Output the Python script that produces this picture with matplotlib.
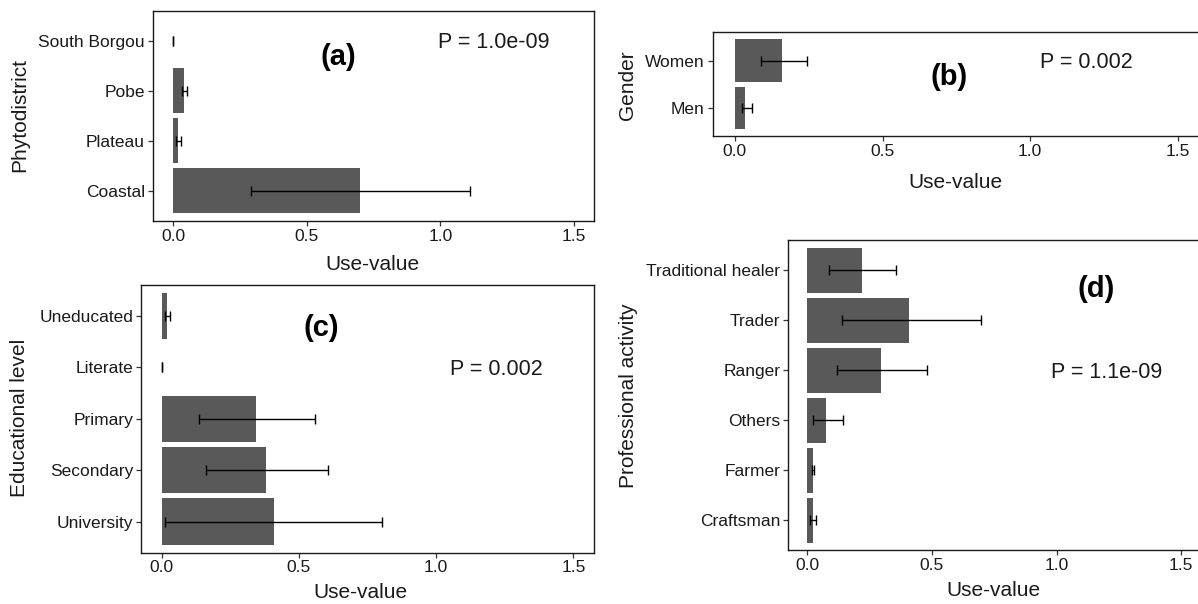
import matplotlib
matplotlib.use("Agg")
import matplotlib.pyplot as plt
import numpy as np

plt.rcParams['font.family'] = ['Liberation Sans', 'DejaVu Sans']

# ---- data ----
phyto_cats = ["Coastal", "Plateau", "Pobe", "South Borgou"]
phyto_val = [0.70, 0.019, 0.040, 0.0]
phyto_lo = [0.29, 0.010, 0.034, 0.0]
phyto_hi = [1.11, 0.028, 0.054, 0.0]

gender_cats = ["Men", "Women"]
gender_val = [0.035, 0.159]
gender_lo = [0.023, 0.087]
gender_hi = [0.058, 0.245]

edu_cats = ["University", "Secondary", "Primary", "Literate", "Uneducated"]
edu_val = [0.41, 0.382, 0.345, 0.0, 0.020]
edu_lo = [0.012, 0.163, 0.135, 0.0, 0.014]
edu_hi = [0.802, 0.607, 0.560, 0.0, 0.029]

prof_cats = ["Craftsman", "Farmer", "Others", "Ranger", "Trader", "Traditional healer"]
prof_val = [0.024, 0.024, 0.078, 0.298, 0.41, 0.222]
prof_lo = [0.012, 0.018, 0.024, 0.122, 0.139, 0.087]
prof_hi = [0.038, 0.028, 0.145, 0.480, 0.696, 0.357]

xticks = [0.0, 0.5, 1.0, 1.5]
xticklabels = ["0.0", "0.5", "1.0", "1.5"]

W, H = 1198, 604
fig = plt.figure(figsize=(W / 100, H / 100), dpi=100)


def px_axes(left, top, right, bottom):
    return fig.add_axes([left / W, 1 - bottom / H, (right - left) / W, (bottom - top) / H])


TICK_COL = "#1a1a1a"
TITLE_COL = "#1a1a1a"


def panel(ax, cats, vals, lo, hi):
    y = np.arange(1, len(cats) + 1)
    vals = np.array(vals)
    ax.barh(y, vals, height=0.9, color="#595959", edgecolor="none", zorder=2)
    err = np.vstack([vals - np.array(lo), np.array(hi) - vals])
    ax.errorbar(vals, y, xerr=err, fmt="none", ecolor="black", elinewidth=1.0,
                capsize=3.6, capthick=1.0, zorder=3)
    ax.set_xlim(-0.075, 1.575)
    ax.set_ylim(0.4, len(cats) + 0.6)
    ax.set_yticks(y)
    ax.set_yticklabels(cats)
    ax.set_xticks(xticks)
    ax.set_xticklabels(xticklabels)
    ax.tick_params(axis="both", length=3.7, width=0.9, colors="#333333",
                   labelcolor=TICK_COL, labelsize=12.5, pad=2)
    for s in ax.spines.values():
        s.set_linewidth(1.0)
        s.set_color("#1a1a1a")


# panel a
axa = px_axes(153, 10.7, 594, 221)
panel(axa, phyto_cats, phyto_val, phyto_lo, phyto_hi)
axa.text(0.62, 3.68, "(a)", fontsize=21, fontweight="bold", ha="center", va="center")
axa.text(1.2, 3.97, "P = 1.0e-09", fontsize=15.5, ha="center", va="center", color=TITLE_COL)

# panel b
axb = px_axes(712.7, 32.3, 1200, 136)
panel(axb, gender_cats, gender_val, gender_lo, gender_hi)
axb.text(0.725, 1.655, "(b)", fontsize=21, fontweight="bold", ha="center", va="center")
axb.text(1.19, 1.95, "P = 0.002", fontsize=15.5, ha="center", va="center", color=TITLE_COL)

# panel c
axc = px_axes(141, 285, 594, 552.5)
panel(axc, edu_cats, edu_val, edu_lo, edu_hi)
axc.text(0.58, 4.76, "(c)", fontsize=21, fontweight="bold", ha="center", va="center")
axc.text(1.22, 3.96, "P = 0.002", fontsize=15.5, ha="center", va="center", color=TITLE_COL)

# panel d
axd = px_axes(788.3, 240, 1200, 550.3)
panel(axd, prof_cats, prof_val, prof_lo, prof_hi)
axd.text(1.16, 5.62, "(d)", fontsize=21, fontweight="bold", ha="center", va="center")
axd.text(1.2, 3.96, "P = 1.1e-09", fontsize=15.5, ha="center", va="center", color=TITLE_COL)


def ftext(x, y, s, rot=0):
    fig.text(x / W, 1 - y / H, s, rotation=rot, ha="center", va="center",
             fontsize=15, color=TITLE_COL)


ftext(372, 265, "Use-value")
ftext(955, 182, "Use-value")
ftext(360, 593, "Use-value")
ftext(993, 590, "Use-value")
ftext(20, 115, "Phytodistrict", 90)
ftext(20, 418, "Educational level", 90)
ftext(628, 85, "Gender", 90)
ftext(628, 396, "Professional activity", 90)

fig.savefig("out.png", dpi=100, facecolor="white")
